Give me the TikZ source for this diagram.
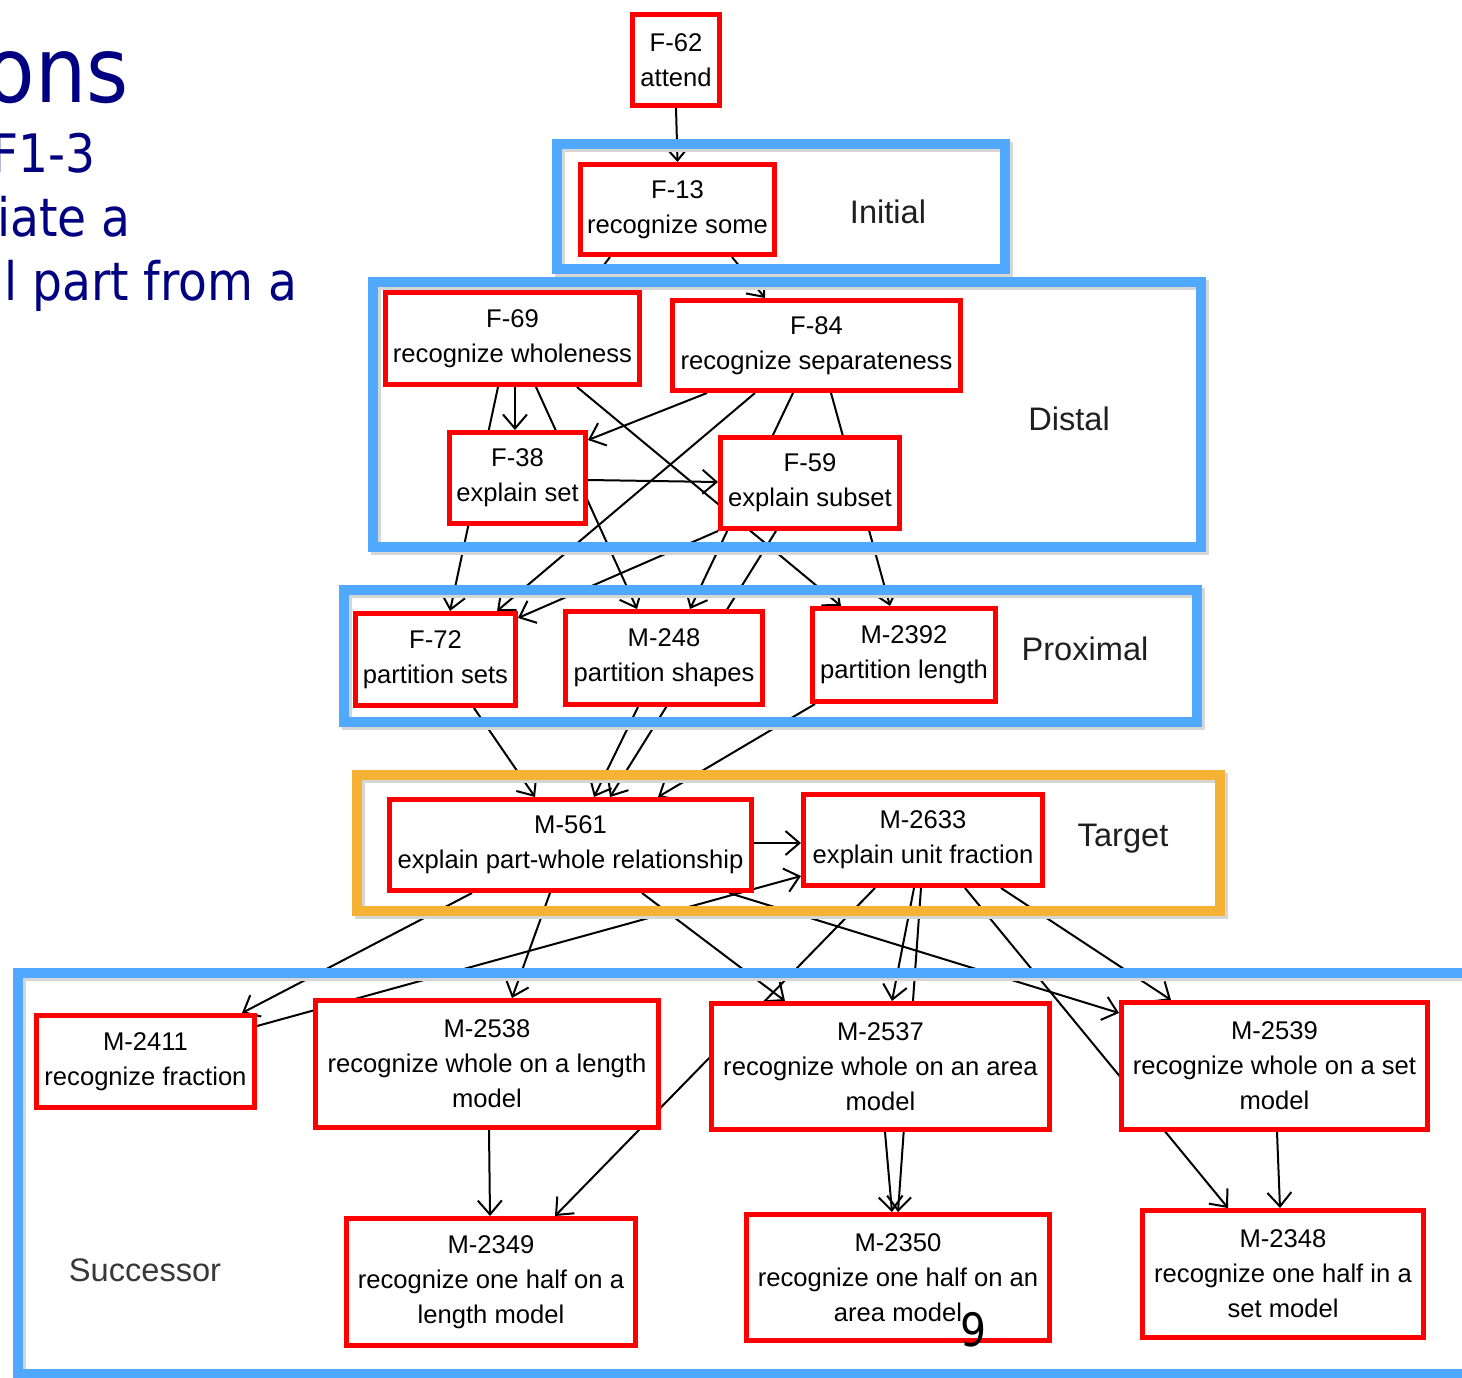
\documentclass[tikz,border=0pt]{standalone}
\usepackage{fontspec}
\setmainfont{Liberation Sans}
\newfontfamily\titlefont[FakeStretch=0.89]{DejaVu Sans}
\usetikzlibrary{arrows.meta,calc}
\definecolor{frameblue}{RGB}{80,168,255}
\definecolor{frameorange}{RGB}{245,178,52}
\definecolor{boxred}{RGB}{255,0,0}
\definecolor{titlenavy}{RGB}{0,0,128}
\pgfdeclarelayer{edgelayer}
\pgfsetlayers{edgelayer,main}
\newcommand\myframe[5]{%
  \draw[line width=5pt, black!16] (#2+3,#3+3) rectangle (#4+3,#5+3);
  \draw[line width=5pt, #1] (#2,#3) rectangle (#4,#5);}
\begin{document}
\begin{tikzpicture}[x=0.5pt,y=-0.5pt,
  rbox/.style={draw=boxred, line width=2.5pt, fill=white, align=center, inner sep=0pt,
    font=\fontsize{12.8}{17.5}\selectfont},
  lbl/.style={font=\fontsize{16.3}{20}\selectfont, text=black!88, inner sep=0pt},
  edge/.style={draw=black, line width=1pt, -{Straight Barb[length=7pt,width=12pt]}},
  ttl/.style={text=titlenavy, anchor=base east, inner sep=0pt}]
\useasboundingbox (0,0) rectangle (1462,1377);
\clip (0,0) rectangle (1462,1377);

% slide text cut at the left edge
\node[ttl, font=\titlefont\fontsize{45.5}{50}\selectfont] (t1) at (129,102) {ons};
\node[ttl, font=\titlefont\fontsize{26.5}{30}\selectfont] (t2) at (96,172) {F1-3};
\node[ttl, font=\titlefont\fontsize{26.5}{30}\selectfont] (t3) at (131,236) {iate a};
\node[ttl, font=\titlefont\fontsize{26.5}{30}\selectfont] (t4) at (298,300) {l part from a};

% frames
\myframe{frameblue}{557}{144}{1005}{269}
\myframe{frameblue}{373}{282}{1201}{547}
\myframe{frameblue}{344}{590}{1197}{722}
\myframe{frameorange}{357}{775}{1220}{911}
\myframe{frameblue}{18}{973}{1490}{1374}

% frame labels
\node[lbl] (linit) at (888,212) {Initial};
\node[lbl] (ldist) at (1069,419) {Distal};
\node[lbl] (lprox) at (1085,649) {Proximal};
\node[lbl] (ltarg) at (1123,839) {Target};
\node[lbl, text=black!78] (lsucc) at (145,1270) {Successor};

% nodes
\node[rbox, minimum width=43.5pt, minimum height=45.5pt] (f62) at (676,60) {F-62\\attend};
\node[rbox, minimum width=97pt, minimum height=45pt] (f13) at (677.5,209.5) {F-13\\recognize some};
\node[rbox, minimum width=127pt, minimum height=46pt] (f69) at (512.5,338.5) {F-69\\recognize wholeness};
\node[rbox, minimum width=144pt, minimum height=45pt] (f84) at (816.5,345.5) {F-84\\recognize separateness};
\node[rbox, minimum width=68pt, minimum height=45.5pt] (f38) at (517.5,478) {F-38\\explain set};
\node[rbox, minimum width=89.5pt, minimum height=45.5pt] (f59) at (810,483) {F-59\\explain subset};
\node[rbox, minimum width=80pt, minimum height=46pt] (f72) at (435.5,659.5) {F-72\\partition sets};
\node[rbox, minimum width=98.5pt, minimum height=46.5pt] (m248) at (664,658) {M-248\\partition shapes};
\node[rbox, minimum width=91.5pt, minimum height=46.5pt] (m2392) at (904,655) {M-2392\\partition length};
\node[rbox, minimum width=181pt, minimum height=45.5pt] (m561) at (570.5,845) {M-561\\explain part-whole relationship};
\node[rbox, minimum width=119.5pt, minimum height=45.5pt] (m2633) at (923,840) {M-2633\\explain unit fraction};
\node[rbox, minimum width=109pt, minimum height=46pt] (m2411) at (145.5,1061.5) {M-2411\\recognize fraction};
\node[rbox, minimum width=171.5pt, minimum height=63.5pt] (m2538) at (487,1064) {M-2538\\recognize whole on a length\\model};
\node[rbox, minimum width=169pt, minimum height=63pt] (m2537) at (880.5,1066.5) {M-2537\\recognize whole on an area\\model};
\node[rbox, minimum width=153pt, minimum height=63.5pt] (m2539) at (1274.5,1066) {M-2539\\recognize whole on a set\\model};
\node[rbox, minimum width=144.5pt, minimum height=63.5pt] (m2349) at (491,1282) {M-2349\\recognize one half on a\\length model};
\node[rbox, minimum width=151.5pt, minimum height=63pt] (m2350) at (898,1277.5) {M-2350\\recognize one half on an\\area model};
\node[rbox, minimum width=140.5pt, minimum height=63.5pt] (m2348) at (1283,1274) {M-2348\\recognize one half in a\\set model};

% slide number
\node[font=\titlefont\fontsize{23}{26}\selectfont, inner sep=0pt] (pgno) at (974,1330) {9};

% connectors (behind frames and boxes)
\begin{pgfonlayer}{edgelayer}
\draw[edge] (f62.south) -- (f13.north);
\draw[edge] ($(f13.south)+(-67.5,0)$) -- ($(f69.north)+(72.5,0)$);
\draw[edge] ($(f13.south)+(54.5,0)$) -- ($(f84.north)+(-51.5,0)$);
\draw[edge] ($(f69.south)+(2.5,0)$) -- ($(f38.north)+(-2.5,0)$);
\draw[edge] ($(f69.south)+(-14.5,0)$) -- ($(f72.north)+(14.5,0)$);
\draw[edge] ($(f69.south)+(23.5,0)$) -- ($(m248.north)+(-27,0)$);
\draw[edge] ($(f69.south)+(64.5,0)$) -- ($(m2392.north)+(-63,0)$);
\draw[edge] ($(f84.south)+(-109.5,0)$) -- ($(f38.north east)+(0,10)$);
\draw[edge] ($(f84.south)+(-61.5,0)$) -- ($(f72.north)+(61.5,0)$);
\draw[edge] ($(f84.south)+(-23.5,0)$) -- ($(m248.north)+(26,0)$);
\draw[edge] ($(f84.south)+(14.5,0)$) -- ($(m2392.north)+(-14,0)$);
\draw[edge] ($(f38.east)+(0,2)$) -- ($(f59.west)+(0,-1)$);
\draw[edge] (f59.south west) -- ($(f72.north east)+(0,7)$);
\draw[edge] ($(f59.south)+(-34,0)$) -- ($(m561.north)+(39.5,0)$);
\draw[edge] ($(m248.south)+(-26,0)$) -- ($(m561.north)+(23.5,0)$);
\draw[edge] ($(f72.south)+(38.5,0)$) -- ($(m561.north)+(-35.5,0)$);
\draw[edge] ($(m2392.south west)+(5,0)$) -- ($(m561.north)+(87.5,0)$);
\draw[edge] ($(m561.east)+(0,-2)$) -- ($(m2633.west)+(0,3)$);
\draw[edge] ($(m2411.north east)+(0,13)$) -- ($(m2633.south west)+(0,-12)$);
\draw[edge] ($(m561.south)+(-98.5,0)$) -- ($(m2411.north)+(96.5,0)$);
\draw[edge] ($(m561.south)+(-20.5,0)$) -- ($(m2538.north)+(25,0)$);
\draw[edge] ($(m561.south)+(71.5,0)$) -- ($(m2537.north)+(-95.5,0)$);
\draw[edge] ($(m561.south)+(158.5,0)$) -- ($(m2539.north west)+(0,13)$);
\draw[edge] ($(m2633.south)+(-9,0)$) -- ($(m2537.north)+(11.5,0)$);
\draw[edge] ($(m2633.south)+(-48,0)$) -- ($(m2349.north)+(64,0)$);
\draw[edge] ($(m2633.south)+(-2,0)$) -- ($(m2350.north)+(0,0)$);
\draw[edge] ($(m2633.south)+(42,0)$) -- ($(m2348.north)+(-55,0)$);
\draw[edge] ($(m2633.south)+(78,0)$) -- ($(m2539.north)+(-103.5,0)$);
\draw[edge] ($(m2537.south)+(4.5,0)$) -- ($(m2350.north)+(-6,0)$);
\draw[edge] ($(m2538.south)+(2,0)$) -- ($(m2349.north)+(-1,0)$);
\draw[edge] ($(m2539.south)+(2.5,0)$) -- ($(m2348.north)+(-3,0)$);
\end{pgfonlayer}
\end{tikzpicture}
\end{document}
